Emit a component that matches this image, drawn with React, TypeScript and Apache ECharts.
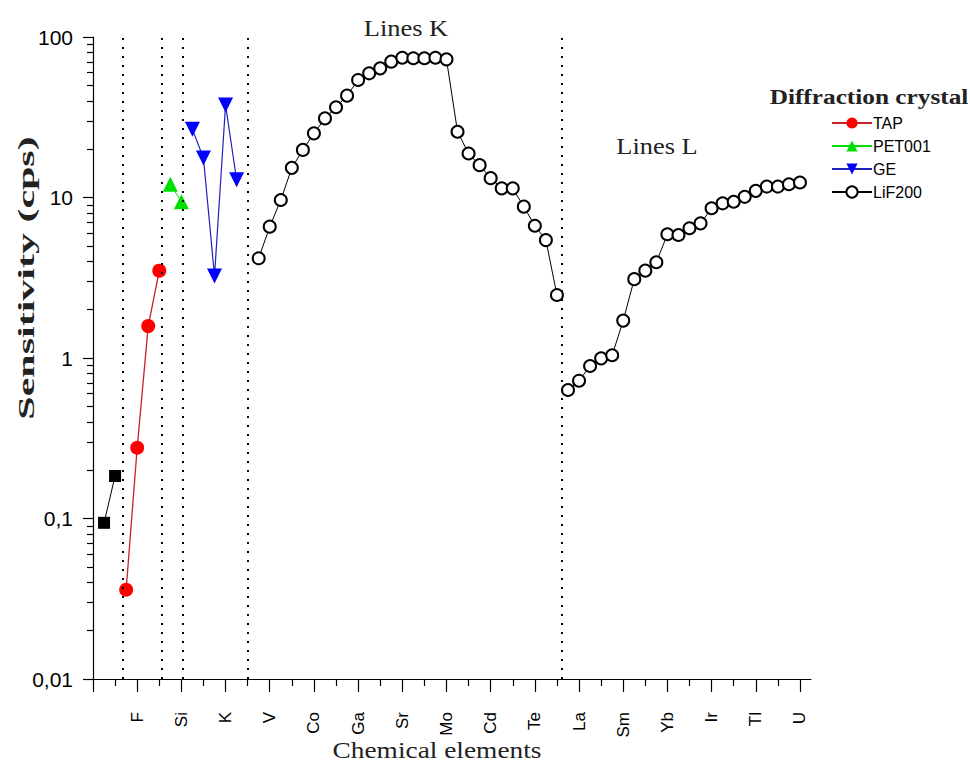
import React, { useEffect, useRef } from "react";
import * as echarts from "echarts";

// Element names by position index on the x axis
const ELEMENTS: string[] = [
  "B", "C", "N", "O", "F", "Na", "Mg", "Al", "Si", "P", "S", "Cl", "K", "Ca", "Sc", "Ti",
  "V", "Cr", "Mn", "Fe", "Co", "Ni", "Cu", "Zn", "Ga", "Ge", "As", "Rb", "Sr", "Y", "Zr", "Nb",
  "Mo", "Rh", "Pd", "Ag", "Cd", "In", "Sn", "Sb", "Te", "I", "Cs", "Ba", "La", "Ce", "Pr", "Nd",
  "Sm", "Gd", "Dy", "Er", "Yb", "Hf", "Ta", "W", "Ir", "Pt", "Au", "Hg", "Tl", "Pb", "Bi", "Th", "U",
];

// Unlabelled crystal (black squares)
const OTHER_X = [1, 2];
const OTHER_Y = [0.094, 0.184];

const TAP_X = [3, 4, 5, 6];
const TAP_Y = [0.036, 0.276, 1.58, 3.5];

const PET_X = [7, 8];
const PET_Y = [12.1, 9.4];

const GE_X = [9, 10, 11, 12, 13];
const GE_Y = [26.6, 17.6, 3.24, 37.7, 12.9];

const LIF_K_X = [15, 16, 17, 18, 19, 20, 21, 22, 23, 24, 25, 26, 27, 28, 29, 30, 31, 32, 33, 34, 35, 36, 37, 38, 39, 40, 41, 42];
const LIF_K_Y = [4.18, 6.58, 9.65, 15.3, 19.8, 25.1, 31.1, 36.5, 43.1, 54, 59.4, 63.8, 70.2, 74.3, 73.7, 73.7, 74.3, 72.6,
  25.7, 18.8, 15.9, 13.2, 11.4, 11.4, 8.77, 6.67, 5.43, 2.47];

const LIF_L_X = [43, 44, 45, 46, 47, 48, 49, 50, 51, 52, 53, 54, 55, 56, 57, 58, 59, 60, 61, 62, 63, 64];
const LIF_L_Y = [0.632, 0.722, 0.891, 0.995, 1.04, 1.71, 3.1, 3.5, 3.95, 5.9, 5.84, 6.43, 6.9, 8.57, 9.2, 9.41,
  10.1, 11.0, 11.7, 11.7, 12.1, 12.4];

// Vertical dotted separators (x index positions)
const SEPARATORS = [2.7, 6.2, 8.15, 14.0, 42.4];

const X_MAJOR_TICKS = [0, 4, 8, 12, 16, 20, 24, 28, 32, 36, 40, 44, 48, 52, 56, 60, 64];
const X_LABEL_TICKS = [4, 8, 12, 16, 20, 24, 28, 32, 36, 40, 44, 48, 52, 56, 60, 64];
const X_MINOR_TICKS = [2, 6, 10, 14, 18, 22, 26, 30, 34, 38, 42, 46, 50, 54, 58, 62];

const Y_MINOR_TICKS: number[] = [];
[0.01, 0.1, 1, 10].forEach((d) => {
  for (let k = 2; k <= 9; k++) Y_MINOR_TICKS.push(Number((d * k).toPrecision(3)));
});

const zip = (xs: number[], ys: number[]) => xs.map((x, i) => [x, ys[i]]);

const SERIF = "Liberation Serif";
const SANS = "Liberation Sans";

export default function App() {
  const ref = useRef<HTMLDivElement>(null);

  useEffect(() => {
    if (!ref.current) return;
    const chart = echarts.init(ref.current, null, { renderer: "svg" });
    const lif = {
      type: "line",
      name: "LiF200",
      symbol: "emptyCircle",
      symbolSize: 12,
      itemStyle: { color: "#000", borderColor: "#000", borderWidth: 1 },
      lineStyle: { color: "#000", width: 1 },
      z: 3,
    };
    const serifText = (text: string, x: number, y: number, size: number, sx: number, bold = false, rot = 0) => ({
      type: "text",
      x,
      y,
      scaleX: sx,
      rotation: rot,
      style: {
        text,
        fontFamily: SERIF,
        fontWeight: bold ? "bold" : "normal",
        fontSize: size,
        fill: "#222",
        align: "center",
        verticalAlign: "middle",
      },
    });
    chart.setOption({
      animation: false,
      backgroundColor: "#fff",
      grid: { left: 93, top: 37, right: 159, bottom: 85, containLabel: false },
      xAxis: [
        {
          type: "value",
          min: 0,
          max: 65,
          interval: 4,
          splitLine: { show: false },
          axisLine: { lineStyle: { color: "#000", width: 1.2 } },
          axisTick: { length: 13, customValues: X_MAJOR_TICKS, lineStyle: { color: "#000", width: 1.2 } },
          axisLabel: {
            customValues: X_LABEL_TICKS,
            rotate: 90,
            margin: 33,
            fontFamily: SANS,
            fontSize: 17,
            color: "#000",
            formatter: (v: number) => ELEMENTS[Math.round(v)] || "",
          },
        },
        {
          type: "value",
          position: "bottom",
          min: 0,
          max: 65,
          interval: 4,
          splitLine: { show: false },
          axisLine: { show: false },
          axisTick: { length: 7, customValues: X_MINOR_TICKS, lineStyle: { color: "#000", width: 1.2 } },
          axisLabel: { show: false },
        },
      ],
      yAxis: [
        {
          type: "log",
          logBase: 10,
          min: 0.01,
          max: 100,
          splitLine: { show: false },
          axisLine: { show: true, lineStyle: { color: "#000", width: 1.2 } },
          axisTick: { show: true, length: 10, lineStyle: { color: "#000", width: 1.2 } },
          axisLabel: {
            margin: 20,
            fontFamily: SANS,
            fontSize: 21,
            color: "#000",
            formatter: (v: number) => String(Number(v.toPrecision(6))).replace(".", ","),
          },
        },
        {
          type: "log",
          logBase: 10,
          min: 0.01,
          max: 100,
          position: "left",
          splitLine: { show: false },
          axisLine: { show: false },
          axisTick: { show: true, length: 6, customValues: Y_MINOR_TICKS, lineStyle: { color: "#000", width: 1.2 } },
          axisLabel: { show: false },
        },
      ],
      legend: {
        orient: "vertical",
        left: 826,
        top: 110,
        itemWidth: 40,
        itemHeight: 14,
        itemGap: 7,
        data: ["TAP", "PET001", "GE", "LiF200"],
        textStyle: { fontFamily: SANS, fontSize: 16, color: "#000", padding: [0, 0, 0, -4] },
      },
      series: [
        {
          type: "line",
          name: "Other",
          data: zip(OTHER_X, OTHER_Y),
          symbol: "rect",
          symbolSize: 12,
          itemStyle: { color: "#000" },
          lineStyle: { color: "#000", width: 1 },
          markLine: {
            silent: true,
            symbol: "none",
            label: { show: false },
            lineStyle: { color: "#000", type: [2, 7], width: 2 },
            data: SEPARATORS.map((x) => ({ xAxis: x })),
          },
        },
        {
          type: "line",
          name: "TAP",
          data: zip(TAP_X, TAP_Y),
          symbol: "circle",
          symbolSize: 14,
          itemStyle: { color: "#ff0000" },
          lineStyle: { color: "#c8202a", width: 1.3 },
        },
        {
          type: "line",
          name: "PET001",
          data: zip(PET_X, PET_Y),
          symbol: "triangle",
          symbolSize: 15,
          itemStyle: { color: "#00e000" },
          lineStyle: { color: "#00e000", width: 1 },
        },
        {
          type: "line",
          name: "GE",
          data: zip(GE_X, GE_Y),
          symbol: "triangle",
          symbolRotate: 180,
          symbolSize: 15,
          itemStyle: { color: "#0000ff" },
          lineStyle: { color: "#2020c0", width: 1.2 },
        },
        { ...lif, data: zip(LIF_K_X, LIF_K_Y) },
        { ...lif, data: zip(LIF_L_X, LIF_L_Y) },
      ],
      graphic: [
        serifText("Lines K", 406, 28, 23, 1.15),
        serifText("Lines L", 657, 146, 23, 1.15),
        serifText("Diffraction crystal", 869, 97, 22, 1.15, true),
        serifText("Chemical elements", 437, 750, 23, 1.19),
        serifText("Sensitivity (cps)", 26, 278, 24, 1.75, true, Math.PI / 2),
      ],
    });
    return () => chart.dispose();
  }, []);

  return (
    <div
      ref={ref}
      style={{ position: "fixed", left: 0, top: 0, width: 970, height: 764, background: "#fff" }}
    />
  );
}
